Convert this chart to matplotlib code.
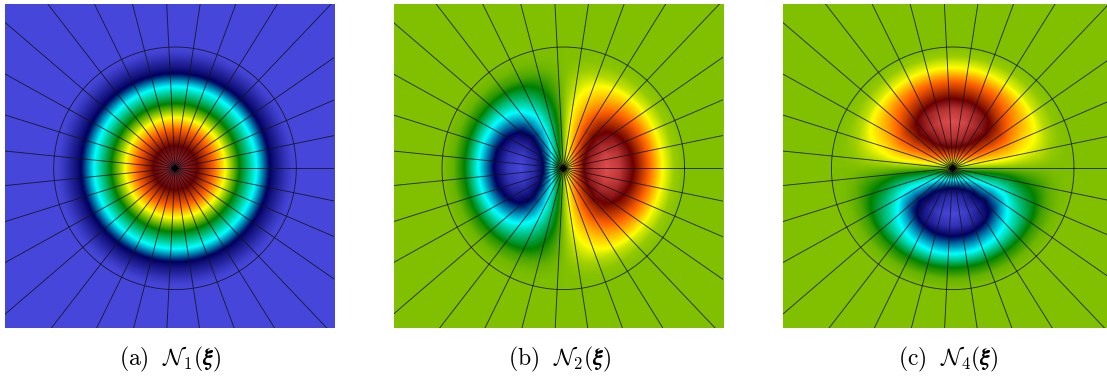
import numpy as np
import matplotlib
matplotlib.use("Agg")
import matplotlib.pyplot as plt
from matplotlib.colors import LinearSegmentedColormap

W, H = 1107, 379

# Radial profiles: radius in px, value on the colour scale
n1_radius = [0, 10, 22, 38, 50, 64, 81, 94, 100, 105, 110, 116, 121, 400]
n1_value = [0.93, 0.91, 0.857, 0.714, 0.571, 0.429, 0.286, 0.143, 0.10, 0.07, 0.04, 0.01, 0.0, 0.0]
n2_radius = [0, 6, 12, 20, 30, 43, 56, 70, 85, 99, 110, 121, 400]
n2_amp = [0.0, 0.14, 0.43, 0.71, 0.90, 1.0, 0.93, 0.71, 0.43, 0.14, 0.03, 0.0, 0.0]
n4_radius = [0, 6, 12, 20, 30, 46, 58, 69, 86, 100, 111, 121, 400]
n4_amp = [0.0, 0.14, 0.43, 0.71, 0.90, 1.0, 0.92, 0.71, 0.43, 0.14, 0.03, 0.0, 0.0]

# Angular weights read every 15 degrees
angles_deg = list(range(0, 375, 15))
n1_weight = [1.0] * 25
n2_weight = [1.0, 0.97, 0.87, 0.71, 0.5, 0.26, 0.0, -0.26, -0.5, -0.71, -0.87, -0.97, -1.0,
             -0.97, -0.87, -0.71, -0.5, -0.26, 0.0, 0.26, 0.5, 0.71, 0.87, 0.97, 1.0]
n4_weight = [0.0, 0.26, 0.5, 0.71, 0.87, 0.97, 1.0, 0.97, 0.87, 0.71, 0.5, 0.26, 0.0,
             -0.26, -0.5, -0.71, -0.87, -0.97, -1.0, -0.97, -0.87, -0.71, -0.5, -0.26, 0.0]

captions = [r"$\mathrm{(a)}\ \ \mathcal{N}_1(\boldsymbol{\xi})$",
            r"$\mathrm{(b)}\ \ \mathcal{N}_2(\boldsymbol{\xi})$",
            r"$\mathrm{(c)}\ \ \mathcal{N}_4(\boldsymbol{\xi})$"]
caption_x = [169.5, 559.5, 948]

# Panel pixel boxes: left, right, centre x
panel_left = [5, 394, 783]
panel_right = [334.3, 723.3, 1107]
panel_cx = [175, 563.3, 952.7]
panel_top, panel_bottom, panel_cy = 4, 328.3, 168.3

ray_count = 31
mesh_radius = 121.3

cmap = LinearSegmentedColormap.from_list("rainbow_desat", [
    (0.278, 0.278, 0.859), (0.0, 0.0, 0.361), (0.0, 1.0, 1.0), (0.0, 0.502, 0.0),
    (1.0, 1.0, 0.0), (1.0, 0.38, 0.0), (0.42, 0.0, 0.0), (0.878, 0.302, 0.302)], N=512)

plt.rcParams["mathtext.fontset"] = "cm"
fig = plt.figure(figsize=(W / 100, H / 100), dpi=100)
fig.patch.set_facecolor("white")

fields = [
    (n1_radius, n1_value, n1_weight, False),
    (n2_radius, n2_amp, n2_weight, True),
    (n4_radius, n4_amp, n4_weight, True),
]

ray_t = np.arange(ray_count) * 2 * np.pi / ray_count
circle_t = np.linspace(0, 2 * np.pi, 241)
for i, (radii, vals, weights, signed) in enumerate(fields):
    l, r, cx = panel_left[i], panel_right[i], panel_cx[i]
    ax = fig.add_axes([l / W, 1 - panel_bottom / H, (r - l) / W, (panel_bottom - panel_top) / H])
    x0, x1 = l - cx, r - cx
    y0, y1 = panel_cy - panel_bottom, panel_cy - panel_top
    nx, ny = int(round((r - l) * 2)), int(round((panel_bottom - panel_top) * 2))
    xs = x0 + (np.arange(nx) + 0.5) * (x1 - x0) / nx
    ys = y0 + (np.arange(ny) + 0.5) * (y1 - y0) / ny
    X, Y = np.meshgrid(xs, ys)
    R = np.hypot(X, Y)
    T = np.degrees(np.arctan2(Y, X)) % 360
    Z = np.interp(R, radii, vals) * np.interp(T, angles_deg, weights)
    if signed:
        Z = 0.5 + 0.5 * Z
    ax.imshow(Z, origin="lower", extent=(x0, x1, y0, y1), cmap=cmap, vmin=0, vmax=1,
              interpolation="bilinear", aspect="auto", zorder=1)
    line_col = (0.08, 0.08, 0.12)
    for t in ray_t:
        ax.plot([0, 400 * np.cos(t)], [0, 400 * np.sin(t)], color=line_col, lw=0.65,
                alpha=0.85, zorder=2, solid_capstyle="butt")
    ax.plot(mesh_radius * np.cos(circle_t), mesh_radius * np.sin(circle_t),
            color=line_col, lw=0.65, alpha=0.85, zorder=2)
    ax.fill([4, 0, -4, 0], [0, 4, 0, -4], color="black", lw=0, zorder=3)
    ax.set_xlim(x0, x1)
    ax.set_ylim(y0, y1)
    ax.axis("off")
    fig.text(caption_x[i] / W, 1 - 365 / H, captions[i], ha="center", va="baseline",
             fontsize=17, color="black")

fig.savefig("out.png", dpi=100)
